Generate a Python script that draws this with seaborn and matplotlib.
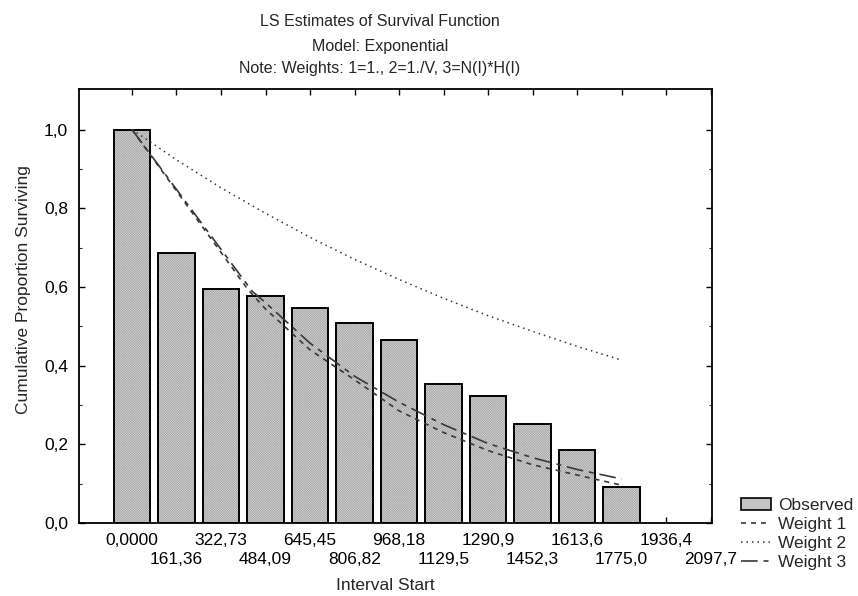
import matplotlib
matplotlib.use("Agg")
import matplotlib.pyplot as plt
import numpy as np
import pandas as pd
import seaborn as sns
from matplotlib.patches import Patch
from matplotlib.lines import Line2D

# ---- data ----
interval_start = ["0,0000", "161,36", "322,73", "484,09", "645,45", "806,82",
                  "968,18", "1129,5", "1290,9", "1452,3", "1613,6", "1775,0",
                  "1936,4", "2097,7"]
observed = [1.0, 0.685, 0.594, 0.578, 0.547, 0.509, 0.465, 0.353, 0.323,
            0.251, 0.186, 0.091]

# fitted curves (x in interval index units)
w1_pos = [0, 2.6, 3, 4, 5, 6, 7, 8, 9, 10, 11]
weight1 = [1.0, 0.594, 0.544, 0.440, 0.364, 0.285, 0.230, 0.184, 0.148, 0.122, 0.096]
w2_pos = [0, 1, 2, 3, 4, 5, 6, 7, 8, 9, 10, 11]
weight2 = [1.0, 0.923, 0.852, 0.787, 0.726, 0.670, 0.619, 0.571, 0.527, 0.487, 0.449, 0.414]
w3_pos = [0, 2.7, 3, 4, 5, 6, 7, 8, 9, 10, 11]
weight3 = [1.0, 0.589, 0.560, 0.457, 0.373, 0.307, 0.250, 0.202, 0.166, 0.136, 0.112]

title_lines = ["LS Estimates of Survival Function", "Model: Exponential",
               "Note: Weights: 1=1., 2=1./V, 3=N(I)*H(I)"]
y_ticks = [0.0, 0.2, 0.4, 0.6, 0.8, 1.0]
y_ticklabels = ["0,0", "0,2", "0,4", "0,6", "0,8", "1,0"]

# ---- style ----
sns.set_theme(style="white")
plt.rcParams['font.family'] = ['Liberation Sans', 'DejaVu Sans']
plt.rcParams['hatch.linewidth'] = 0.35
FS = 12.5
W, H = 858, 596

fig = plt.figure(figsize=(W / 100, H / 100), dpi=100)
ax = fig.add_axes([79 / W, 1 - 523 / H, (712 - 79) / W, (523 - 89) / H])

bar_df = pd.DataFrame({"start": interval_start[:len(observed)], "obs": observed})
order = interval_start[:len(observed)]

# textured fill layer
sns.barplot(data=bar_df, x="start", y="obs", order=order, color="#d6d6d6",
            saturation=1, width=0.82, edgecolor="#a6a6a6", linewidth=0, ax=ax)
for p in ax.patches:
    p.set_hatch("x" * 14)
# outline layer
sns.barplot(data=bar_df, x="start", y="obs", order=order, color="black",
            fill=False, width=0.82, linewidth=1.4, ax=ax)

line_col = "#383838"
sns.lineplot(x=w1_pos, y=weight1, ax=ax, color=line_col, lw=1.2,
             linestyle=(0, (3, 3)), sort=False, estimator=None)
sns.lineplot(x=w2_pos, y=weight2, ax=ax, color=line_col, lw=1.1,
             linestyle=(0, (1, 2.6)), sort=False, estimator=None)
sns.lineplot(x=w3_pos, y=weight3, ax=ax, color=line_col, lw=1.2,
             linestyle=(0, (10, 3.5, 3, 3.5)), sort=False, estimator=None)

# ---- axes ----
ax.set_xlim(-1.19, 13.03)
ax.set_ylim(0, 1.103)
ax.set_xlabel("")
ax.set_ylabel("")
idx = np.arange(len(interval_start))
ax.set_xticks(idx[0::2], labels=interval_start[0::2])
ax.set_xticks(idx[1::2], labels=interval_start[1::2], minor=True)
ax.tick_params(axis='x', which='both', direction='in', length=4, width=1,
               top=True, bottom=True, labelsize=FS, colors='black')
ax.tick_params(axis='x', which='major', pad=7.5)
ax.tick_params(axis='x', which='minor', pad=21)
ax.set_yticks(y_ticks, labels=y_ticklabels)
ax.set_yticks(np.arange(0.1, 1.1, 0.2), minor=True)
ax.tick_params(axis='y', which='major', direction='in', length=4, width=1,
               left=True, right=True, labelsize=FS, pad=8, colors='black')
ax.tick_params(axis='y', which='minor', direction='in', length=2.5, width=0.8,
               left=True, right=True)
for s in ax.spines.values():
    s.set_color('black')
    s.set_linewidth(1.3)
ax.grid(False)

# ---- texts ----
TFS = 11.5
for t, yc in zip(title_lines, [22, 46, 69]):
    fig.text(380 / W, 1 - yc / H, t, ha='center', va='center', fontsize=TFS)
fig.text(24 / W, 1 - 290 / H, "Cumulative Proportion Surviving", rotation=90,
         ha='center', va='center', fontsize=FS)
fig.text(385 / W, 1 - 586 / H, "Interval Start", ha='center', va='center',
         fontsize=FS)

handles = [Patch(facecolor="#c4c4c4", edgecolor="black", linewidth=1.2),
           Line2D([], [], color=line_col, lw=1.2, linestyle=(0, (3, 3))),
           Line2D([], [], color=line_col, lw=1.1, linestyle=(0, (1, 2.6))),
           Line2D([], [], color=line_col, lw=1.2, linestyle=(0, (10, 3.5, 3, 3.5)))]
labels = ["Observed", "Weight 1", "Weight 2", "Weight 3"]
ax.legend(handles, labels, loc='upper left', bbox_to_anchor=(741 / W, 1 - 498 / H),
          bbox_transform=fig.transFigure, frameon=False, fontsize=FS,
          handlelength=1.7, handleheight=0.7, handletextpad=0.45,
          labelspacing=0.22, borderaxespad=0, borderpad=0)

fig.savefig("out.png", dpi=100)
